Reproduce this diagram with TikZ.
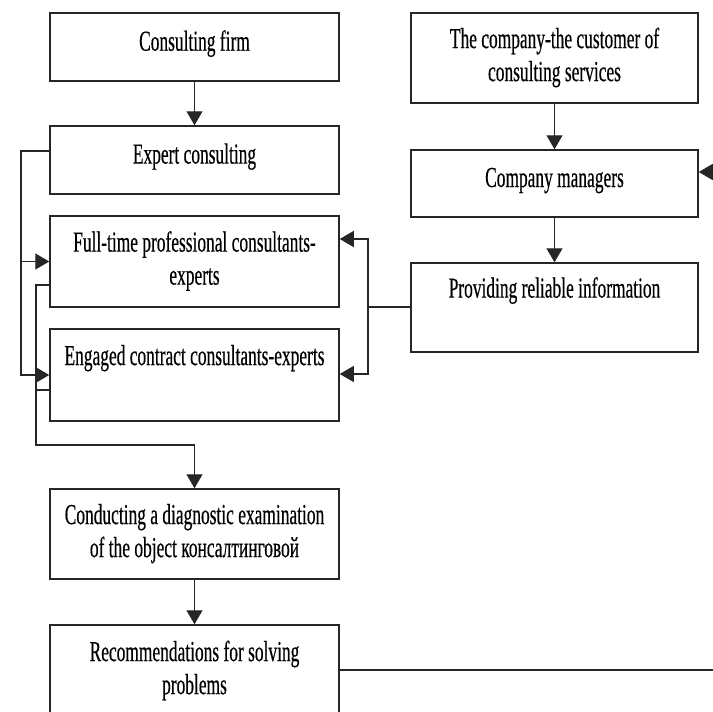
\documentclass[tikz,border=0pt]{standalone}
\usepackage{fontspec}
\setmainfont{Liberation Serif}[FakeStretch=0.6,FakeBold=0.4]
\usetikzlibrary{arrows.meta}
\newcommand{\ls}{\rule[-9.9pt]{0pt}{33pt}}
\newcommand{\lsone}{\rule[-13pt]{0pt}{33pt}}
\begin{document}
\begin{tikzpicture}[x=1pt,y=-1pt,
  box/.style={draw=black!85, line width=1.5pt, rectangle, inner sep=0pt, align=center,
    font=\fontsize{29}{33}\selectfont, text=black},
  lbox/.style={box, minimum width=289pt},
  rbox/.style={box, minimum width=287pt},
  conn/.style={draw=black!85, line width=1.3pt},
  arr/.style={conn, -{Triangle[length=14pt,width=16pt]}}]
\useasboundingbox[fill=white] (0,0) rectangle (713,712);
\clip (0,0) rectangle (713,712);
% left column
\node[lbox, minimum height=68pt] (firm) at (194.5,47) {\lsone Consulting firm};
\node[lbox, minimum height=68pt] (expert) at (194.5,160) {\lsone Expert consulting};
\node[lbox, minimum height=91pt] (full) at (194.5,261.5) {\ls Full-time professional consultants-\\\ls experts};
\node[lbox, minimum height=92pt] (eng) at (194.5,375) {\ls Engaged contract consultants-experts\\\ls};
\node[lbox, minimum height=90pt] (cond) at (194.5,534) {\ls Conducting a diagnostic examination\\\ls of the object консалтинговой};
\node[lbox, minimum height=92pt] (rec) at (194.5,671) {\ls Recommendations for solving\\\ls problems};
% right column
\node[rbox, minimum height=90pt] (company) at (554.5,58) {\ls The company-the customer of\\\ls consulting services};
\node[rbox, minimum height=67pt] (managers) at (554.5,183.5) {\lsone Company managers};
\node[rbox, minimum height=89pt] (prov) at (554.5,307.5) {\ls Providing reliable information\\\ls};
% vertical flows
\draw[arr] (firm) -- (expert);
\draw[arr] (company) -- (managers);
\draw[arr] (managers) -- (prov);
% left feed
\coordinate (L1) at (21,151);
\draw[arr] (expert.west |- L1) -- (L1) |- (eng.west);
\draw[arr] (L1 |- full.west) -- (full.west);
\coordinate (L2) at (36,285);
\coordinate (L3) at (36,445);
\coordinate (L4) at (36,390);
\draw[arr] (full.west |- L2) -- (L2) -- (L3) -| (cond.north);
\draw[conn] (eng.west |- L4) -- (L4);
\draw[arr] (cond) -- (rec);
% right feed
\coordinate (R1) at (368,307);
\coordinate (R2) at (368,239);
\coordinate (R3) at (368,374);
\draw[conn] (prov.west |- R1) -- (R1);
\draw[arr] (R1) -- (R2) -- (full.east |- R2);
\draw[arr] (R1) -- (R3) -- (eng.east |- R3);
% edge lines
\coordinate (E1) at (713,172);
\coordinate (E2) at (713,670);
\draw[arr] (E1) -- (managers.east |- E1);
\draw[conn] (rec.east |- E2) -- (E2);
\end{tikzpicture}
\end{document}
